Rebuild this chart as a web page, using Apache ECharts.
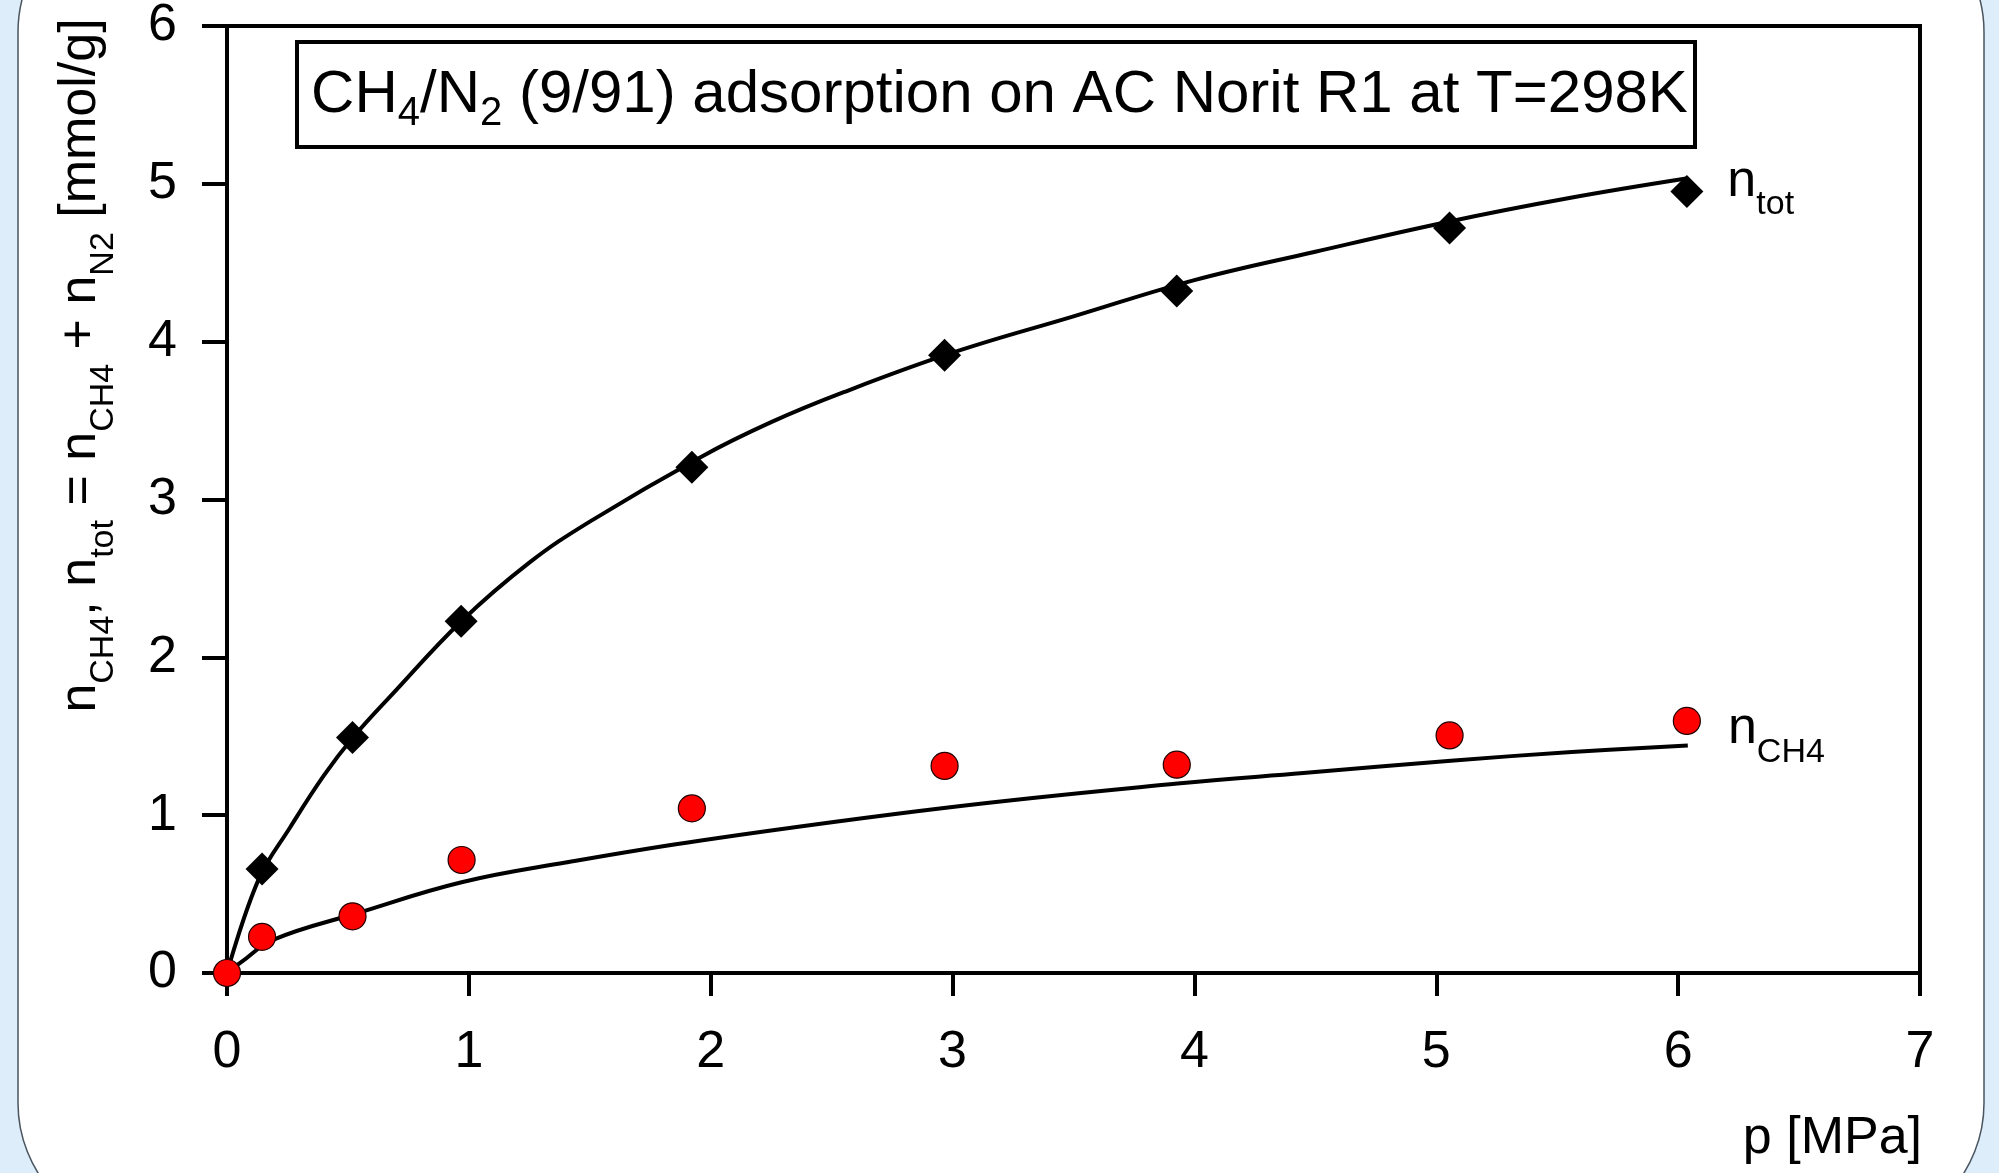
<!DOCTYPE html>
<html>
<head>
<meta charset="utf-8">
<title>CH4/N2 adsorption on AC Norit R1</title>
<script src="https://cdn.jsdelivr.net/npm/echarts@6/dist/echarts.min.js"></script>
<style>
html, body { margin: 0; padding: 0; background: #ddedf9; }
#chartBox { width: 1999px; height: 1173px; }
</style>
</head>
<body>
<div id="chartBox"></div>
<script>
// measured points (p in MPa, n in mmol/g)
const pTot = [0.145, 0.519, 0.968, 1.922, 2.967, 3.927, 5.055, 6.036];
const nTot = [0.659, 1.492, 2.229, 3.205, 3.914, 4.321, 4.720, 4.951];
const pCh4 = [0, 0.145, 0.519, 0.970, 1.922, 2.967, 3.927, 5.055, 6.036];
const nCh4 = [0, 0.229, 0.359, 0.716, 1.043, 1.312, 1.320, 1.505, 1.597];

// model curves
const fitTotP = [0, 0.13, 0.26, 0.40, 0.52, 0.68, 0.97, 1.25, 1.50, 1.96, 2.25, 2.55, 3.00, 3.50, 4.00, 4.50, 5.05, 5.55, 6.04];
const fitTotN = [0, 0.59, 0.92, 1.25, 1.49, 1.76, 2.23, 2.60, 2.86, 3.27, 3.49, 3.68, 3.93, 4.16, 4.39, 4.57, 4.76, 4.91, 5.035];
const fitCh4P = [0, 0.06, 0.19, 0.54, 0.97, 1.40, 1.96, 2.99, 3.93, 4.45, 5.06, 5.56, 6.04];
const fitCh4N = [0, 0.07, 0.21, 0.38, 0.575, 0.70, 0.84, 1.05, 1.20, 1.267, 1.345, 1.40, 1.442];

const xTicks = { min: 0, max: 7, step: 1 };
const yTicks = { min: 0, max: 6, step: 1 };

const FONT = '"Liberation Sans", Arial, Helvetica, sans-serif';

function subRich(main, sub, mainLH, subLH) {
  return {
    m: { fontSize: main, lineHeight: mainLH, fontFamily: FONT, fontWeight: "normal", color: "#000" },
    s: { fontSize: sub, lineHeight: subLH, verticalAlign: "bottom", fontFamily: FONT, fontWeight: "normal", color: "#000" }
  };
}

function pairs(xs, ys) {
  return xs.map((x, i) => [x, ys[i]]);
}

function withEndLabel(xs, ys, label) {
  return xs.map((x, i) => (i === xs.length - 1 ? { value: [x, ys[i]], label: label } : [x, ys[i]]));
}

const chart = echarts.init(document.getElementById("chartBox"));

const option = {
  backgroundColor: "#ddedf9",
  animation: false,
  title: {
    text: "{m|CH}{s|4}{m|/N}{s|2}{m| (9/91) adsorption on AC Norit R1 at T=298K}",
    left: "center",
    top: 56,
    padding: 0,
    textStyle: { fontWeight: "normal", rich: subRich(60, 40, 78, 40) }
  },
  graphic: [
    {
      type: "rect",
      z: -10,
      shape: { x: 18, y: -100, width: 1966, height: 1335, r: 132 },
      style: { fill: "#fff", stroke: "#4a5560", lineWidth: 1.5 }
    },
    {
      type: "rect",
      z: 5,
      shape: { x: 297, y: 42, width: 1398, height: 105 },
      style: { fill: "#fff", stroke: "#000", lineWidth: 4 }
    }
  ],
  grid: {
    left: 227,
    right: 79,
    top: 20,
    bottom: 200,
    show: true,
    borderColor: "#000",
    borderWidth: 4
  },
  xAxis: {
    type: "value",
    min: xTicks.min,
    max: xTicks.max,
    interval: xTicks.step,
    splitLine: { show: false },
    axisLine: { lineStyle: { color: "#000", width: 4 } },
    axisTick: { length: 23, lineStyle: { color: "#000", width: 4 } },
    axisLabel: { fontSize: 52, color: "#000", margin: 54, fontFamily: FONT },
    name: "p [MPa]",
    nameLocation: "end",
    nameGap: 2,
    nameTextStyle: {
      fontSize: 52,
      color: "#000",
      fontFamily: FONT,
      align: "right",
      verticalAlign: "top",
      padding: [140, 0, 0, 0]
    }
  },
  yAxis: {
    type: "value",
    min: yTicks.min,
    max: yTicks.max,
    interval: yTicks.step,
    splitLine: { show: false },
    axisLine: { lineStyle: { color: "#000", width: 4 } },
    axisTick: { length: 25, lineStyle: { color: "#000", width: 4 } },
    axisLabel: { fontSize: 52, color: "#000", margin: 50, fontFamily: FONT },
    name: "{m|n}{s|CH4}{m|, n}{s|tot}{m| = n}{s|CH4}{m| + n}{s|N2}{m| [mmol/g]}",
    nameLocation: "middle",
    nameRotate: 90,
    nameGap: 106,
    nameTextStyle: {
      padding: [0, 0, 0, 268],
      rich: subRich(52, 34, 81, 34)
    }
  },
  series: [
    {
      name: "fit n_tot",
      type: "line",
      data: pairs(fitTotP, fitTotN),
      showSymbol: false,
      smooth: 0.4,
      silent: true,
      lineStyle: { color: "#000", width: 4 },
      z: 2
    },
    {
      name: "fit n_CH4",
      type: "line",
      data: pairs(fitCh4P, fitCh4N),
      showSymbol: false,
      smooth: 0.4,
      silent: true,
      lineStyle: { color: "#000", width: 4 },
      z: 2
    },
    {
      name: "n_tot",
      type: "scatter",
      symbol: "diamond",
      symbolSize: 33,
      itemStyle: { color: "#000", opacity: 1 },
      data: withEndLabel(pTot, nTot, {
        show: true,
        position: "right",
        distance: 24,
        offset: [0, -10],
        formatter: "{m|n}{s|tot}",
        rich: subRich(52, 34, 81, 34)
      }),
      z: 3
    },
    {
      name: "n_CH4",
      type: "scatter",
      symbol: "circle",
      symbolSize: 27,
      itemStyle: { color: "#ff0000", borderColor: "#200000", borderWidth: 1.2, opacity: 1 },
      data: withEndLabel(pCh4, nCh4, {
        show: true,
        position: "right",
        distance: 27,
        offset: [0, 8],
        formatter: "{m|n}{s|CH4}",
        rich: subRich(52, 34, 81, 34)
      }),
      z: 4
    }
  ]
};

chart.setOption(option);
</script>
</body>
</html>
